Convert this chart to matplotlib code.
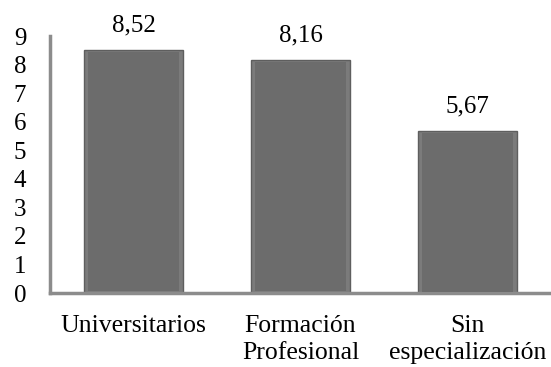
import matplotlib
matplotlib.use("Agg")
import matplotlib.pyplot as plt
import numpy as np

categories = ["Universitarios", "Formación\nProfesional", "Sin\nespecialización"]
values = [8.52, 8.16, 5.67]
value_labels = ["8,52", "8,16", "5,67"]
yticks = list(range(0, 10))

plt.rcParams["font.family"] = ["Liberation Serif", "DejaVu Serif"]

fig = plt.figure(figsize=(5.51, 3.67), dpi=100)
ax = fig.add_axes([0.0907, 0.2016, 0.9093, 0.6992])

x = np.arange(len(categories))
bars = ax.bar(x, values, width=0.59, color="#7b7b7b", edgecolor="#5e5e5e", linewidth=1.0, zorder=2)

# darker inner face for a bevelled look
for xi, v in zip(x, values):
    ax.bar(xi, v * 0.985, width=0.545, bottom=v * 0.0075, color="#6c6c6c", linewidth=0, zorder=3)

for xi, v, lab in zip(x, values, value_labels):
    ax.annotate(lab, (xi, v), xytext=(0, 10), textcoords="offset points",
                ha="center", va="bottom", fontsize=18, color="black")

ax.set_xlim(-0.5, 2.5)
ax.set_ylim(0, 9)
ax.set_yticks(yticks)
ax.set_yticklabels([str(t) for t in yticks])
ax.set_xticks(x)
ax.set_xticklabels(categories, linespacing=1.3)
ax.tick_params(axis="y", length=0, pad=17, labelsize=18)
ax.tick_params(axis="x", length=0, pad=16, labelsize=18.5)

for s in ["top", "right"]:
    ax.spines[s].set_visible(False)
for s in ["left", "bottom"]:
    ax.spines[s].set_color("#8c8c8c")
    ax.spines[s].set_linewidth(2.5)

fig.savefig("out.png", dpi=100)
